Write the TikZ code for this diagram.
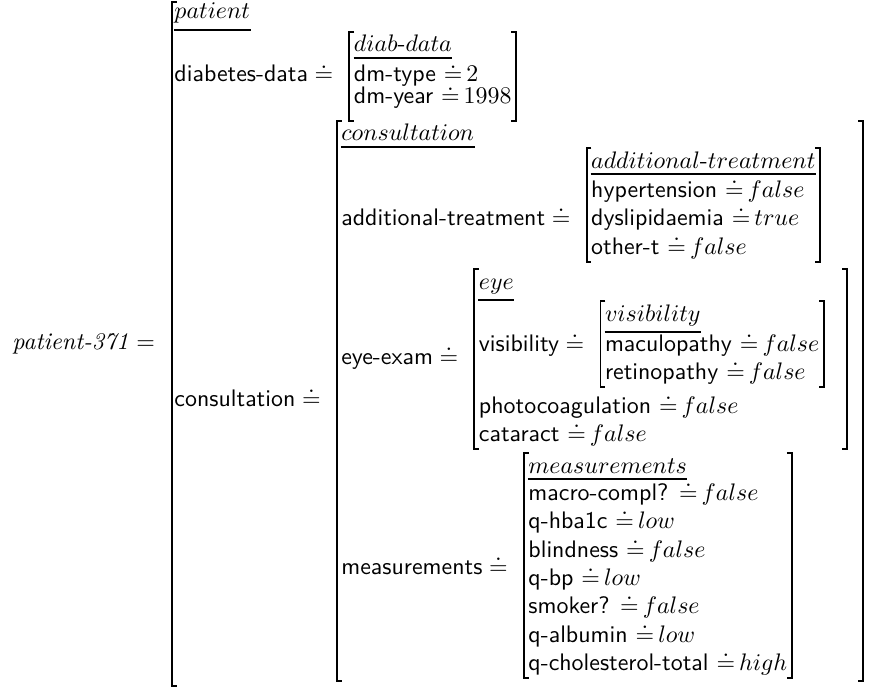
\documentclass[tikz,border=0pt]{standalone}
\usetikzlibrary{positioning, fit}

% attribute with a value, and attribute opening a sub-structure
\newcommand{\fv}[2]{#1 ${\doteq}\,#2$}
\newcommand{\fa}[1]{#1${}\doteq{}$}
% square brackets round a fitted box
\newcommand{\avmbrackets}[1]{%
  \draw[brk] ([xshift=2pt]#1.north west) -- (#1.north west) -- (#1.south west) -- ([xshift=2pt]#1.south west);
  \draw[brk] ([xshift=-2pt]#1.north east) -- (#1.north east) -- (#1.south east) -- ([xshift=-2pt]#1.south east);}
% line under a type name
\newcommand{\typeline}[1]{%
  \draw[uline] ([yshift=-2.4pt]#1.south west) -- ([yshift=-2.4pt]#1.south east);}

\begin{document}
\begin{tikzpicture}[
    x=0.4184pt, y=-0.4184pt,
    every node/.style={inner sep=0pt, font=\sffamily},
    lbl/.style={anchor=base west, text height=6.9pt, text depth=1.9pt},
    hdr/.style={anchor=base west, text height=6.9pt},
    avm/.style={inner xsep=1.5pt, inner ysep=1pt},
    brk/.style={line width=0.8pt},
    uline/.style={line width=1pt}
]

\useasboundingbox (0,0) rectangle (877,688);

% Name of the structure
\node[anchor=base west, font=\normalfont] (pname) at (12,349) {\textit{patient-371} $=$};

% Patient level
\node[hdr] (phdr) at (174,19) {$patient$};
\node[lbl] (ddl) at (174,82) {\fa{diabetes-data}};
\node[lbl] (cons) at (174,406) {\fa{consultation}};

% diab-data
\coordinate[right=5.5pt of ddl.base east] (ddx);
\node[hdr] (dhdr) at (ddx |- 0,52) {$diab\mbox{-}data$};
\node[lbl] (dtype) at (ddx |- 0,82) {\fv{dm-type}{2}};
\node[lbl] (dyear) at (ddx |- 0,104) {\fv{dm-year}{1998}};
\node[avm, fit={(dhdr)(dtype)(dyear)([yshift=-4pt]dyear.south)}] (diab) {};

% consultation
\coordinate[right=5.5pt of cons.base east] (cx);
\node[hdr] (chdr) at (cx |- 0,141) {$consultation$};

% additional-treatment
\node[lbl] (atl) at (cx |- 0,225) {\fa{additional-treatment}};
\coordinate[right=5.5pt of atl.base east] (atx);
\node[hdr] (athdr) at (atx |- 0,168) {$additional\mbox{-}treatment$};
\node[lbl] (hyp) at (atx |- 0,197) {\fv{hypertension}{false}};
\node[lbl] (dys) at (atx |- 0,225) {\fv{dyslipidaemia}{true}};
\node[lbl] (oth) at (atx |- 0,254) {\fv{other-t}{false}};
\node[avm, fit=(athdr)(hyp)(dys)(oth)] (atbox) {};

% eye-exam
\node[lbl] (eyel) at (cx |- 0,364) {\fa{eye-exam}};
\coordinate[right=5.5pt of eyel.base east] (ex);
\node[hdr] (ehdr) at (ex |- 0,289) {$eye$};
\node[lbl] (visl) at (ex |- 0,351) {\fa{visibility}};
\coordinate[right=5.5pt of visl.base east] (vx);
\node[hdr] (vhdr) at (vx |- 0,321) {$visibility$};
\node[lbl] (mac) at (vx |- 0,351) {\fv{maculopathy}{false}};
\node[lbl] (ret) at (vx |- 0,379) {\fv{retinopathy}{false}};
\node[avm, fit=(vhdr)(mac)(ret)] (visbox) {};
\node[lbl] (photo) at (ex |- 0,413) {\fv{photocoagulation}{false}};
\node[lbl] (cat) at (ex |- 0,441) {\fv{cataract}{false}};
\node[avm, fit={(ehdr)(visl)(visbox)(photo)(cat)([xshift=8pt]visbox.east)}] (eyebox) {};

% measurements
\node[lbl] (measl) at (cx |- 0,574) {\fa{measurements}};
\coordinate[right=5.5pt of measl.base east] (mx);
\node[hdr] (mhdr) at (mx |- 0,473) {$measurements$};
\node[lbl] (m1) at (mx |- 0,500) {\fv{macro-compl?}{false}};
\node[lbl] (m2) at (mx |- 0,528) {\fv{q-hba1c}{low}};
\node[lbl] (m3) at (mx |- 0,557) {\fv{blindness}{false}};
\node[lbl] (m4) at (mx |- 0,585) {\fv{q-bp}{low}};
\node[lbl] (m5) at (mx |- 0,613) {\fv{smoker?}{false}};
\node[lbl] (m6) at (mx |- 0,642) {\fv{q-albumin}{low}};
\node[lbl] (m7) at (mx |- 0,670) {\fv{q-cholesterol-total}{high}};
\node[avm, fit=(mhdr)(m1)(m2)(m3)(m4)(m5)(m6)(m7)] (measbox) {};

\node[avm, fit={(chdr)(atl)(atbox)(eyel)(eyebox)(measl)(measbox)([xshift=5pt]eyebox.east)}] (consbox) {};

% Type lines
\typeline{phdr}
\typeline{dhdr}
\typeline{chdr}
\typeline{athdr}
\typeline{ehdr}
\typeline{vhdr}
\typeline{mhdr}

% Brackets
\avmbrackets{diab}
\avmbrackets{atbox}
\avmbrackets{visbox}
\avmbrackets{eyebox}
\avmbrackets{measbox}
\avmbrackets{consbox}

% patient bracket, its right side lies past the frame
\coordinate (ptop) at (172,2);
\coordinate (pbot) at (172,686);
\draw[brk] ([xshift=2pt]ptop) -- (ptop) -- (pbot) -- ([xshift=2pt]pbot);

\end{tikzpicture}
\end{document}
